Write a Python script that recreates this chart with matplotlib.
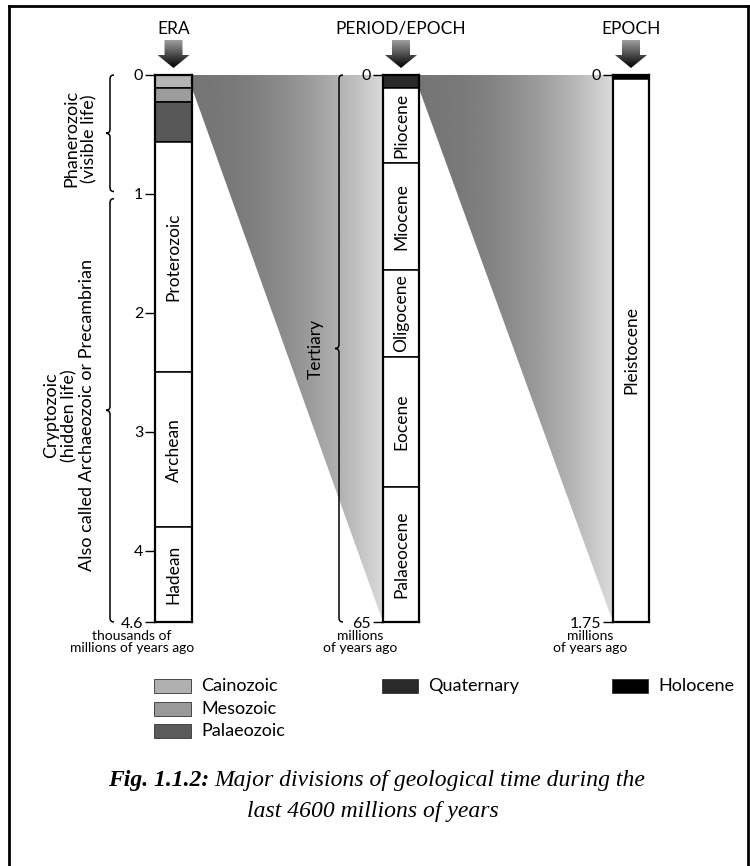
import numpy as np
import matplotlib
matplotlib.use("Agg")
import matplotlib.pyplot as plt
from matplotlib.patches import Polygon, Rectangle, PathPatch
from matplotlib.path import Path

W, H = 750, 866
plt.rcParams["font.family"] = ["Lato", "DejaVu Sans"]

# ---- data ----
era_names = ["Cainozoic", "Mesozoic", "Palaeozoic", "Proterozoic", "Archean", "Hadean"]
era_bounds = [0, 0.11, 0.23, 0.56, 2.5, 3.8, 4.6]      # thousands of millions of years ago
era_colors = ["#b5b5b5", "#9c9c9c", "#585858", "white", "white", "white"]
era_ticks = [0, 1, 2, 3, 4, 4.6]
era_ticklabels = ["0", "1", "2", "3", "4", "4.6"]

period_names = ["Quaternary", "Pliocene", "Miocene", "Oligocene", "Eocene", "Palaeocene"]
period_bounds = [0, 1.6, 10.5, 23.2, 33.5, 49, 65]     # millions of years ago
period_colors = ["#2a2a2a", "white", "white", "white", "white", "white"]
period_ticks = [0, 65]

epoch_names = ["Holocene", "Pleistocene"]
epoch_bounds = [0, 0.012, 1.75]                        # millions of years ago
epoch_colors = ["black", "white"]
epoch_ticks = [0, 1.75]

eon_names = ["Phanerozoic\n(visible life)",
             "Cryptozoic\n(hidden life)\nAlso called Archaeozoic or Precambrian"]
eon_spans = [(0, 0.98), (1.04, 4.6)]
tertiary_span = (0, 65)

legend_cols = [["Cainozoic", "Mesozoic", "Palaeozoic"], ["Quaternary"], ["Holocene"]]
legend_colors = [["#b0b0b0", "#999999", "#5a5a5a"], ["#2a2a2a"], ["black"]]

headers = ["ERA", "PERIOD/EPOCH", "EPOCH"]
units = ["thousands of\nmillions of years ago", "millions\nof years ago", "millions\nof years ago"]

fig = plt.figure(figsize=(W / 100, H / 100), dpi=100)
bg = fig.add_axes([0, 0, 1, 1])
bg.set_xlim(0, W)
bg.set_ylim(H, 0)
bg.set_autoscale_on(False)
bg.axis("off")


def col_axes(x0, x1, y0, y1):
    return fig.add_axes([x0 / W, 1 - y1 / H, (x1 - x0) / W, (y1 - y0) / H])


def to_bg(ax, x, y):
    return bg.transData.inverted().transform(ax.transData.transform((x, y)))


def draw_column(ax, names, bounds, colors, ticks, ticklabels, skip_label):
    ax.set_xlim(0, 1)
    ax.set_ylim(bounds[-1], bounds[0])
    for i, n in enumerate(names):
        ax.bar(0.5, bounds[i + 1] - bounds[i], bottom=bounds[i], width=1,
               color=colors[i], edgecolor="black", linewidth=1.1)
        if n not in skip_label:
            ax.text(0.5, (bounds[i] + bounds[i + 1]) / 2, n, rotation=90,
                    ha="center", va="center", fontsize=12.5)
    ax.set_yticks(ticks)
    ax.set_yticklabels(ticklabels)
    ax.set_xticks([])
    ax.tick_params(axis="y", length=7, width=1, pad=1.5, labelsize=11.5)
    for s in ax.spines.values():
        s.set_linewidth(1.6)


ax1 = col_axes(155, 192, 75, 622)
ax2 = col_axes(383, 419, 75, 622)
ax3 = col_axes(613, 649, 75, 622)

draw_column(ax1, era_names, era_bounds, era_colors, era_ticks, era_ticklabels,
            ["Cainozoic", "Mesozoic", "Palaeozoic"])
draw_column(ax2, period_names, period_bounds, period_colors, period_ticks,
            ["0", "65"], ["Quaternary"])
draw_column(ax3, epoch_names, epoch_bounds, epoch_colors, epoch_ticks,
            ["0", "1.75"], ["Holocene"])


# shaded wedges that blow up one band into the next column
def wedge(axa, band_end, axb):
    p0 = to_bg(axa, 1, 0)
    p3 = to_bg(axa, 1, band_end)
    p1 = to_bg(axb, 0, axb.get_ylim()[1])
    p2 = to_bg(axb, 0, axb.get_ylim()[0])
    poly = Polygon([p0, p1, p2, p3], closed=True, facecolor="none", edgecolor="none")
    bg.add_patch(poly)
    t = np.linspace(0, 1, 200)
    grad = (0.46 + 0.40 * t ** 2)[None, :]
    im = bg.imshow(grad, cmap="gray", vmin=0, vmax=1, aspect="auto",
                   extent=(p0[0], p1[0], p2[1], p1[1]), zorder=0)
    im.set_clip_path(poly)


wedge(ax1, era_bounds[1], ax2)
wedge(ax2, period_bounds[1], ax3)


# header arrows
def arrow(ax, label):
    cx = to_bg(ax, 0.5, 0)[0]
    top = 40
    pts = [(cx - 9, top), (cx + 9, top), (cx + 9, 55), (cx + 16, 55),
           (cx, 68), (cx - 16, 55), (cx - 9, 55)]
    poly = Polygon(pts, closed=True, facecolor="none", edgecolor="none")
    bg.add_patch(poly)
    grad = np.linspace(0.62, 0.0, 60)[:, None]
    im = bg.imshow(grad, cmap="gray", vmin=0, vmax=1, aspect="auto",
                   extent=(cx - 16, cx + 16, 68, top), zorder=2)
    im.set_clip_path(poly)
    bg.text(cx, 29, label, ha="center", va="center", fontsize=12.5)


for ax, h in zip([ax1, ax2, ax3], headers):
    arrow(ax, h)

# unit notes below the columns
for ax, u in zip([ax1, ax2, ax3], units):
    x0 = to_bg(ax, 0, 0)[0]
    bg.text(x0 - 23, 630, u, ha="center", va="top", fontsize=10, linespacing=1.0)


# curly braces
def brace(x, ya, yb, w=4):
    ym = (ya + yb) / 2
    verts = [(x + w, ya), (x, ya), (x, ya + w), (x, ym - w), (x, ym), (x - w, ym),
             (x, ym), (x, ym + w), (x, yb - w), (x, yb), (x + w, yb)]
    codes = [Path.MOVETO, Path.CURVE3, Path.CURVE3, Path.LINETO, Path.CURVE3, Path.CURVE3,
             Path.CURVE3, Path.CURVE3, Path.LINETO, Path.CURVE3, Path.CURVE3]
    bg.add_patch(PathPatch(Path(verts, codes), facecolor="none", edgecolor="black", lw=1.1))
    return ym


x_left1 = to_bg(ax1, 0, 0)[0]
eon_text_x = [80, 69]
for name, (a, b), tx in zip(eon_names, eon_spans, eon_text_x):
    ya = to_bg(ax1, 0, a)[1]
    yb = to_bg(ax1, 0, b)[1]
    ym = brace(x_left1 - 45, ya, yb)
    bg.text(tx, ym + 5, name, rotation=90, ha="center", va="center",
            fontsize=13, linespacing=1.15)

x_left2 = to_bg(ax2, 0, 0)[0]
ya = to_bg(ax2, 0, tertiary_span[0])[1]
yb = to_bg(ax2, 0, tertiary_span[1])[1]
ym = brace(x_left2 - 44, ya, yb)
bg.text(x_left2 - 67, ym, "Tertiary", rotation=90, ha="center", va="center", fontsize=12.5)

# legend, one group under each column
for ax, names, cols in zip([ax1, ax2, ax3], legend_cols, legend_colors):
    x0 = to_bg(ax, 0, 0)[0]
    x1 = to_bg(ax, 1, 0)[0]
    for i, (n, c) in enumerate(zip(names, cols)):
        y = 679 + 22.5 * i
        bg.add_patch(Rectangle((x0 - 1, y), x1 - x0, 14, facecolor=c,
                               edgecolor="#333333", lw=0.6))
        bg.text(x1 + 9, y + 7, n, ha="left", va="center", fontsize=13)

# frame
bg.plot([9, 9], [6, H], color="black", lw=2)
bg.plot([9, 748], [6, 6], color="black", lw=2)
bg.plot([748, 748], [6, H], color="black", lw=2)

# caption
r = fig.canvas.get_renderer()
cap_font = dict(family="Liberation Serif", style="italic", fontsize=17, va="baseline")
ca = bg.text(0, 786, "Fig. 1.1.2:", weight="bold", **cap_font)
cb = bg.text(0, 786, "Major divisions of geological time during the", **cap_font)
wa = ca.get_window_extent(r).width
wb = cb.get_window_extent(r).width
start = 377 - (wa + 5 + wb) / 2
ca.set_x(start)
cb.set_x(start + wa + 5)
bg.text(373, 817, "last 4600 millions of years", ha="center", **cap_font)

fig.savefig("out.png", dpi=100)
